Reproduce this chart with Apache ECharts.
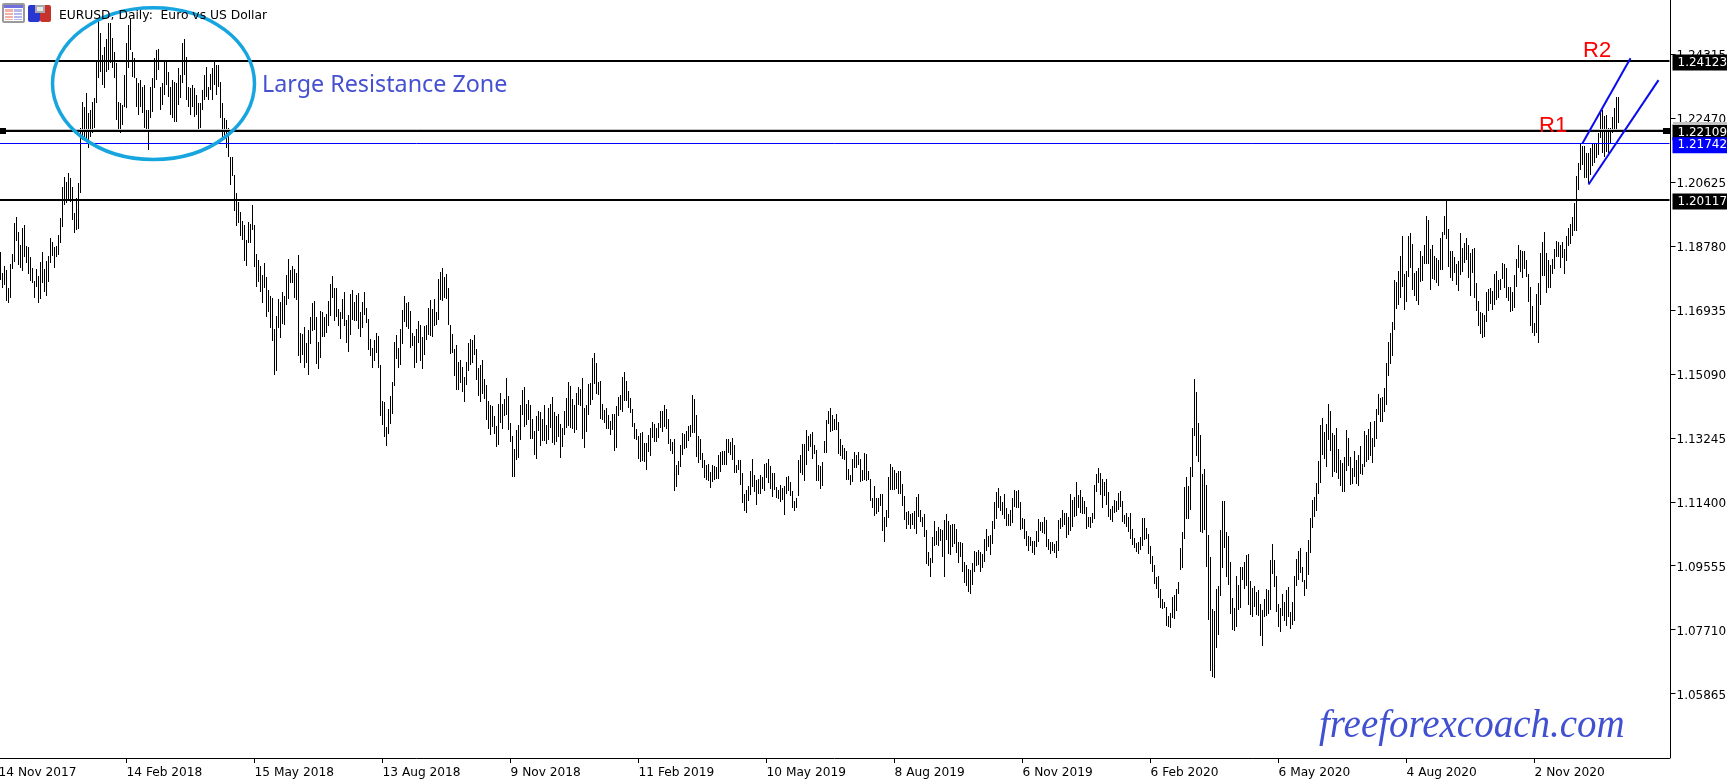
<!DOCTYPE html>
<html><head><meta charset="utf-8">
<script src="https://cdn.jsdelivr.net/npm/echarts@6/dist/echarts.min.js"></script>
<style>html,body{margin:0;padding:0;background:#fff;overflow:hidden}#c{width:1727px;height:782px}</style>
</head><body><div id="c"></div>
<script>
// Daily high / low, in units of 0.0001 EUR/USD
const highs = [
11861,11801,11821,11808,11756,11826,11854,11945,11960,11917,
11880,11929,11938,11878,11874,11847,11813,11777,11811,11791,
11832,11860,11811,11834,11849,11902,11890,11876,11878,11909,
11959,12049,12077,12063,12087,12073,12049,11972,12015,12058,
12217,12294,12279,12320,12260,12270,12294,12303,12414,12525,
12491,12428,12452,12474,12520,12520,12476,12438,12404,12294,
12289,12284,12371,12462,12515,12534,12438,12419,12361,12347,
12356,12337,12342,12270,12270,12337,12361,12419,12443,12445,
12337,12347,12409,12409,12380,12337,12356,12351,12347,12390,
12371,12462,12474,12424,12335,12332,12342,12332,12313,12289,
12289,12327,12371,12395,12337,12375,12390,12409,12400,12400,
12351,12289,12246,12241,12217,12135,12135,
12082,12029,12005,11977,11950,11938,11895,11948,11941,11996,
11938,11854,11837,11821,11794,11828,11789,11751,11734,11729,
11637,11676,11725,11716,11746,11732,11794,11839,11808,11821,
11811,11801,11852,11626,11624,11645,11597,11634,11674,11714,
11720,11674,11602,11690,11686,11674,11681,11720,11768,11791,
11756,11756,11696,11688,11724,11746,11664,11679,11739,11751,
11717,11736,11741,11688,11717,11744,11700,11667,11610,11583,
11607,11626,11618,11535,11431,11429,11357,11408,11445,11485,
11600,11621,11583,11637,11693,11734,11714,11715,11690,11626,
11619,11637,11660,11650,11614,11647,11650,11698,11722,11696,
11724,11688,11782,11802,11813,11789,11797,11756,11650,11624,
11581,11592,11542,11549,11528,11501,11542,11597,11609,11607,
11621,11581,11525,
11534,11548,11493,11476,11430,11419,11416,11387,11358,11421,
11454,11421,11436,11498,11445,11366,11329,11291,11347,11361,
11419,11462,11470,11423,11433,11419,11380,11344,11387,11401,
11398,11378,11419,11361,11409,11421,11443,11399,11387,11393,
11364,11354,11401,11438,11486,11473,11436,11419,11454,11470,
11464,11497,11409,11419,11481,11483,11556,11568,11539,11486,
11488,11423,11404,11411,11390,11372,11393,11392,11416,11443,
11447,11500,11513,11488,11459,11440,11407,11366,11349,11329,
11339,11340,11310,11308,11332,11354,11371,11364,11354,11368,
11402,11402,11419,11407,11380,11322,11313,11320,11246,11258,
11303,11339,11335,11345,11358,11361,11447,11436,11390,11329,
11322,11282,11260,11246,11249,11226,11246,11244,11241,11274,
11284,11286,11286,11322,11322,11313,11324,11303,11246,11260,
11260,11224,11162,11174,11186,11228,11263,11217,11202,11207,
11217,11212,11248,11252,11263,11243,11222,11223,11183,11175,
11188,11181,11185,11210,11214,11198,11171,11142,11152,11260,
11274,11306,11306,11347,11330,11334,11342,11303,11289,11246,
11243,11255,11315,11375,11401,11409,11390,11380,11393,11371,
11321,11305,11296,11286,11234,11217,11263,11283,11274,11283,
11262,11231,11281,11279,11229,11207,11152,11186,11151,11150,
11162,11162,11097,11116,11212,11248,11241,11231,11224,11228,
11228,11191,11156,11111,11113,11106,11108,11113,11154,11162,
11116,11097,11106,11058,10996,10977,11039,11084,11056,11068,
11060,11058,11087,11106,11084,11073,11075,11075,11060,11025,
11025,11022,10967,10958,10945,10943,10964,10998,10996,11001,
10996,10989,11033,11061,11041,11044,11084,11139,11169,11179,
11157,11139,11162,11121,11105,11116,11150,11174,11172,11174,
11139,11092,11090,11056,11041,11039,11027,11027,11056,11090,
11081,11083,11095,11087,11033,11025,11025,11018,11027,11087,
11092,11116,11108,11108,11097,11161,11145,11155,11196,11159,
11174,11155,11142,11126,11095,11095,11107,11188,11220,11236,
11224,11206,11196,11205,11167,11119,11129,11145,11142,11164,
11171,11142,11102,11108,11095,11107,11061,11035,11022,11025,
11037,11092,11092,11063,11047,11012,10984,10958,10924,10926,10888,10860,
10850,10836,10811,10819,10864,10871,10889,10908,11006,11052,
11182,11211,11186,11241,11352,11493,11456,11366,11333,11219,
11234,11189,11044,10980,10830,10826,10888,10896,11059,11143,
11143,11052,11040,10966,10862,10833,10926,10900,10951,10951,
10966,10987,10989,10912,10891,10897,10879,10886,10846,10828,
10860,10888,10886,10972,11018,10972,10926,10846,10833,10874,
10850,10886,10894,10821,10850,10926,10974,10998,11006,10953,
10915,10994,11030,11093,11145,11155,11193,11258,11362,11381,
11342,11365,11421,11402,11338,11333,11352,11292,11259,11253,
11268,11347,11323,11268,11237,11287,11261,11275,11301,11249,
11344,11333,11350,11370,11323,11373,11407,11451,11440,11441,
11467,11539,11600,11626,11658,
11780,11774,11806,11849,11907,11797,11806,11905,11914,11884,
11801,11806,11814,11863,11849,11881,11964,11953,11869,11881,
11849,11842,11836,11900,11918,11964,12011,11926,11863,11863,
11847,11826,11835,11914,11873,11886,11900,11881,11857,11869,
11871,11770,11719,11687,11684,11679,11746,11754,11756,11749,
11797,11806,11780,11782,11828,11826,11815,11758,11758,11745,
11794,11840,11881,11866,11863,11862,11837,11797,11759,11705,
11655,11739,11770,11857,11888,11917,11857,11836,11823,11839,
11869,11893,11890,11881,11890,11869,11905,11929,11940,11962,
12001,12078,12116,
12174,12167,12167,12145,12145,12159,12171,12174,12174,12202,
12270,12270,12252,12255,12217,12217,12249,12275,12308,12306
];
const lows = [
11780,11756,11765,11720,11712,11729,11810,11832,11893,11823,
11813,11806,11847,11828,11797,11778,11770,11729,11758,11714,
11725,11770,11746,11734,11775,11828,11849,11815,11845,11852,
11885,11933,11996,12001,12010,12005,11953,11914,11924,11928,
12029,12183,12183,12178,12159,12193,12202,12217,12289,12361,
12380,12342,12332,12380,12385,12404,12390,12361,12241,12212,
12202,12227,12279,12275,12390,12443,12366,12361,12279,12255,
12279,12260,12217,12207,12154,12246,12265,12332,12356,12385,
12270,12284,12313,12342,12308,12255,12246,12236,12236,12284,
12303,12347,12371,12299,12279,12255,12279,12250,12255,12212,
12217,12270,12299,12308,12299,12327,12299,12342,12313,12337,
12246,12193,12193,12159,12135,12053,12078,
11978,11936,11945,11907,11895,11835,11821,11885,11885,11924,
11818,11760,11775,11746,11714,11756,11674,11688,11642,11605,
11506,11516,11640,11613,11653,11650,11708,11724,11770,11770,
11727,11722,11559,11541,11562,11527,11540,11506,11595,11631,
11634,11538,11523,11556,11616,11614,11626,11647,11676,11727,
11662,11674,11647,11610,11666,11647,11599,11573,11621,11664,
11662,11660,11637,11616,11640,11679,11655,11578,11559,11527,
11547,11570,11525,11386,11362,11328,11300,11335,11364,11393,
11475,11551,11527,11533,11594,11658,11645,11638,11583,11588,
11527,11540,11599,11547,11523,11562,11607,11621,11618,11616,
11647,11650,11664,11722,11719,11727,11725,11650,11566,11568,
11504,11461,11461,11482,11456,11429,11477,11516,11533,11540,
11564,11492,11446,
11428,11450,11435,11375,11351,11332,11356,11335,11298,11303,
11368,11350,11387,11390,11347,11313,11212,11212,11260,11267,
11318,11390,11356,11361,11377,11322,11322,11274,11263,11345,
11300,11315,11316,11306,11318,11354,11308,11303,11313,11327,
11267,11298,11332,11354,11358,11354,11351,11339,11347,11419,
11416,11321,11296,11342,11390,11419,11433,11479,11452,11447,
11378,11375,11368,11350,11351,11332,11347,11287,11296,11387,
11404,11399,11431,11430,11409,11395,11356,11321,11318,11263,
11255,11258,11255,11231,11284,11272,11323,11313,11313,11323,
11354,11342,11356,11351,11306,11286,11279,11171,11183,11217,
11241,11274,11291,11294,11315,11327,11339,11337,11270,11253,
11260,11238,11209,11204,11199,11180,11198,11202,11205,11205,
11226,11246,11246,11246,11282,11274,11260,11224,11224,11231,
11188,11137,11113,11108,11143,11159,11183,11167,11130,11162,
11162,11178,11171,11209,11195,11176,11154,11175,11151,11148,
11139,11145,11101,11162,11172,11157,11121,11113,11123,11156,
11224,11217,11200,11246,11286,11297,11263,11277,11199,11199,
11178,11186,11281,11281,11363,11342,11345,11347,11347,11279,
11272,11263,11260,11204,11202,11188,11198,11238,11236,11246,
11198,11200,11202,11200,11202,11142,11123,11100,11106,11111,
11128,11056,11025,11068,11094,11173,11175,11173,11176,11161,
11162,11128,11087,11061,11073,11061,11073,11061,11047,11097,
11082,11068,11039,10960,10954,10924,10964,11013,11015,11013,
11026,10981,10924,11029,10989,10986,11010,11018,10993,10964,
10982,10936,10905,10898,10881,10874,10900,10938,10955,10958,
10938,10948,10967,10998,11010,10986,11018,11061,11090,11121,
11113,11102,11090,11070,11071,11071,11080,11126,11123,11121,
11059,11062,11033,11012,10998,11012,10991,10986,11010,11025,
11057,11049,11047,11009,11001,10989,10998,10991,10979,10998,
11061,11066,11073,11035,11044,11057,11066,11097,11100,11121,
11107,11105,11105,11061,11066,11063,11078,11090,11169,11195,
11159,11121,11158,11131,11097,11087,11083,11107,11111,11116,
11126,11083,11075,11066,11054,11033,11015,11006,10996,10989,
11001,11012,11030,11032,10989,10960,10938,10903,10888,10863,10833,10830,
10833,10782,10780,10775,10806,10802,10826,10874,10943,10949,
11033,11091,11091,11117,11210,11330,11273,11256,11052,11049,
11059,10953,10799,10653,10636,10633,10718,10756,10867,10948,
11008,10924,10900,10816,10771,10766,10780,10828,10833,10915,
10889,10897,10843,10814,10809,10836,10814,10811,10753,10725,
10807,10811,10817,10828,10932,10893,10823,10780,10763,10811,
10797,10783,10809,10773,10785,10795,10897,10915,10934,10910,
10867,10889,10929,10992,11064,11097,11112,11163,11193,11275,
11264,11240,11318,11285,11211,11225,11224,11205,11184,11167,
11167,11230,11244,11187,11191,11211,11191,11184,11220,11216,
11240,11256,11259,11272,11253,11299,11321,11390,11369,11371,
11400,11419,11504,11538,11560,
11636,11696,11708,11727,11758,11693,11717,11789,11815,11751,
11734,11720,11708,11773,11777,11825,11825,11826,11751,11782,
11780,11770,11761,11809,11809,11908,11898,11816,11785,11777,
11799,11764,11748,11794,11804,11828,11838,11785,11734,11799,
11729,11689,11648,11624,11612,11614,11657,11689,11711,11693,
11708,11722,11727,11751,11783,11756,11729,11719,11686,11690,
11700,11759,11814,11804,11785,11811,11788,11715,11648,11626,
11619,11626,11599,11708,11792,11791,11743,11755,11755,11797,
11812,11845,11845,11814,11844,11797,11833,11879,11883,11905,
11921,11921,12039,
12097,12111,12075,12073,12058,12082,12109,12116,12130,12140,
12188,12145,12135,12150,12147,12174,12202,12207,12207,12231
];
const dateTicks = ['14 Nov 2017','14 Feb 2018','15 May 2018','13 Aug 2018','9 Nov 2018','11 Feb 2019','10 May 2019','8 Aug 2019','6 Nov 2019','6 Feb 2020','6 May 2020','4 Aug 2020','2 Nov 2020'];
const barsPerDateTick = 64;
const slotCount = 836;
const priceTicks = [1.24315,1.22470,1.20625,1.18780,1.16935,1.15090,1.13245,1.11400,1.09555,1.07710,1.05865];
const levelsBlack = [1.24123,1.22109,1.20117];
const levelBlue = 1.21742;
const levelShadow = 1.22150;
// annotations: slot index and price
const channelLines = [[792,1.2174,816,1.2419],[795,1.2055,830,1.2356]];
const zoneEllipse = [27,1.2565,128,1.2127];

const UI = '"DejaVu Sans", Tahoma, sans-serif';
const categories = Array.from({length:slotCount},(_,i)=> i%barsPerDateTick===0 ? (dateTicks[i/barsPerDateTick]||'') : '');
const barData = highs.map((h,i)=>[i+1,h/10000,lows[i]/10000]);

function levelLabel(bg){return {show:true,position:'end',distance:3,offset:[0,2],formatter:p=>p.value.toFixed(5),color:'#fff',backgroundColor:bg,
  fontFamily:UI,fontSize:12,lineHeight:14,padding:[1,12,1,5]};}
const markData = [
  {yAxis:levelShadow,lineStyle:{color:'#c4c4c4',width:1,type:'solid'},label:{show:false}},
  ...levelsBlack.map(v=>({yAxis:v,lineStyle:{color:'#000',width:2,type:'solid'},label:levelLabel('#000')})),
  {yAxis:levelBlue,lineStyle:{color:'#0000ff',width:1,type:'solid'},label:levelLabel('#0000ff')}
];

function icon(){
  const r=(x,y,w,h,fill,extra)=>Object.assign({type:'rect',shape:{x,y,width:w,height:h},style:{fill}},extra||{});
  const els=[
    r(2,3,23,20,'#9a9a9a',{shape:{x:2,y:3,width:23,height:20,r:2}}),
    r(4,5,19,3,'#7070e0'),r(4,8,19,13,'#ffffff'),
    r(5,9,8,11,'#f4b0a8'),r(14,9,8,11,'#b4b8f0'),
    r(5,12,8,1,'#fff'),r(5,15,8,1,'#fff'),r(5,18,8,1,'#fff'),
    r(14,12,8,1,'#fff'),r(14,15,8,1,'#fff'),r(14,18,8,1,'#fff'),
    r(28,5,12,17,'#2a36d0',{shape:{x:28,y:5,width:12,height:17,r:2}}),
    r(40,5,11,17,'#c8322c',{shape:{x:40,y:5,width:11,height:17,r:2}}),
    r(35,5,10,8,'#a8a8a8'),r(37,7,6,4,'#e8e8e8')
  ];
  return els;
}

const chart = echarts.init(document.getElementById('c'),null,{renderer:'canvas',width:1727,height:782});
chart.setOption({
  animation:false,
  backgroundColor:'#ffffff',
  title:{text:'EURUSD, Daily:  Euro vs US Dollar',left:59,top:10,padding:0,textStyle:{fontFamily:UI,fontSize:12.3,fontWeight:'normal',color:'#000'}},
  grid:{left:-2.5,top:0,width:2*slotCount,height:758,containLabel:false,outerBoundsMode:'none'},
  xAxis:{type:'category',data:categories,boundaryGap:true,
    axisLine:{show:true,lineStyle:{color:'#000',width:1}},
    axisTick:{show:true,interval:(i,v)=>v!=='',alignWithLabel:true,length:5,lineStyle:{color:'#000'}},
    axisLabel:{show:true,interval:barsPerDateTick-1,align:'left',margin:9,fontFamily:UI,fontSize:12.2,color:'#000',hideOverlap:false,showMinLabel:true},
    splitLine:{show:false}},
  yAxis:{type:'value',position:'right',offset:1,min:1.0401,max:1.2587,scale:true,
    axisLine:{show:true,onZero:false,lineStyle:{color:'#000',width:1}},
    axisTick:{show:true,length:5,lineStyle:{color:'#000'},customValues:priceTicks},
    axisLabel:{show:true,margin:6,color:'#000',formatter:v=>'{a|'+v.toFixed(5)+'}',customValues:priceTicks,
      rich:{a:{fontFamily:UI,fontSize:12,color:'#000',padding:[4,0,0,0]}}},
    splitLine:{show:false}},
  series:[
    {type:'custom',name:'EURUSD',data:barData,encode:{x:0,y:[1,2]},silent:true,clip:false,
     renderItem:(params,api)=>{
       const a=api.coord([api.value(0),api.value(1)]),b=api.coord([api.value(0),api.value(2)]);
       return {type:'line',shape:{x1:a[0],y1:Math.round(a[1]),x2:b[0],y2:Math.round(b[1])},style:{stroke:'#000',lineWidth:1}};
     },
     markLine:{silent:true,symbol:'none',animation:false,precision:5,data:markData}},
    {type:'custom',name:'channel',data:channelLines,silent:true,clip:false,z:5,encode:{x:[0,2],y:[1,3]},
     renderItem:(params,api)=>{
       const a=api.coord([api.value(0),api.value(1)]),b=api.coord([api.value(2),api.value(3)]);
       return {type:'line',shape:{x1:a[0],y1:a[1],x2:b[0],y2:b[1]},style:{stroke:'#0a0af0',lineWidth:2}};
     }},
    {type:'custom',name:'zone',data:[zoneEllipse],silent:true,clip:false,z:6,encode:{x:[0,2],y:[1,3]},
     renderItem:(params,api)=>{
       const a=api.coord([api.value(0),api.value(1)]),b=api.coord([api.value(2),api.value(3)]);
       return {type:'ellipse',shape:{cx:(a[0]+b[0])/2,cy:(a[1]+b[1])/2,rx:(b[0]-a[0])/2,ry:(b[1]-a[1])/2},style:{fill:'none',stroke:'#17a5e0',lineWidth:3.5}};
     }}
  ],
  graphic:[
    ...icon(),
    {type:'rect',shape:{x:0,y:128,width:6,height:6},style:{fill:'#000'},z:10},
    {type:'rect',shape:{x:1663,y:128,width:7,height:6},style:{fill:'#000'},z:10},
    {type:'rect',shape:{x:1673,y:122,width:54,height:3},style:{fill:'#c4c4c4'},z:10},
    {type:'text',left:262,top:74,z:10,style:{text:'Large Resistance Zone',fill:'#4650d2',fontFamily:'"Noto Sans"',fontSize:23.3}},
    {type:'text',left:1583,top:40,z:10,style:{text:'R2',fill:'#ff0000',fontFamily:'"Liberation Sans"',fontSize:22}},
    {type:'text',left:1539,top:115,z:10,style:{text:'R1',fill:'#ff0000',fontFamily:'"Liberation Sans"',fontSize:22}},
    {type:'text',left:1319,top:707,z:10,style:{text:'freeforexcoach.com',fill:'#4050d0',fontFamily:'"Liberation Serif"',fontStyle:'italic',fontSize:39}}
  ]
});
</script></body></html>
